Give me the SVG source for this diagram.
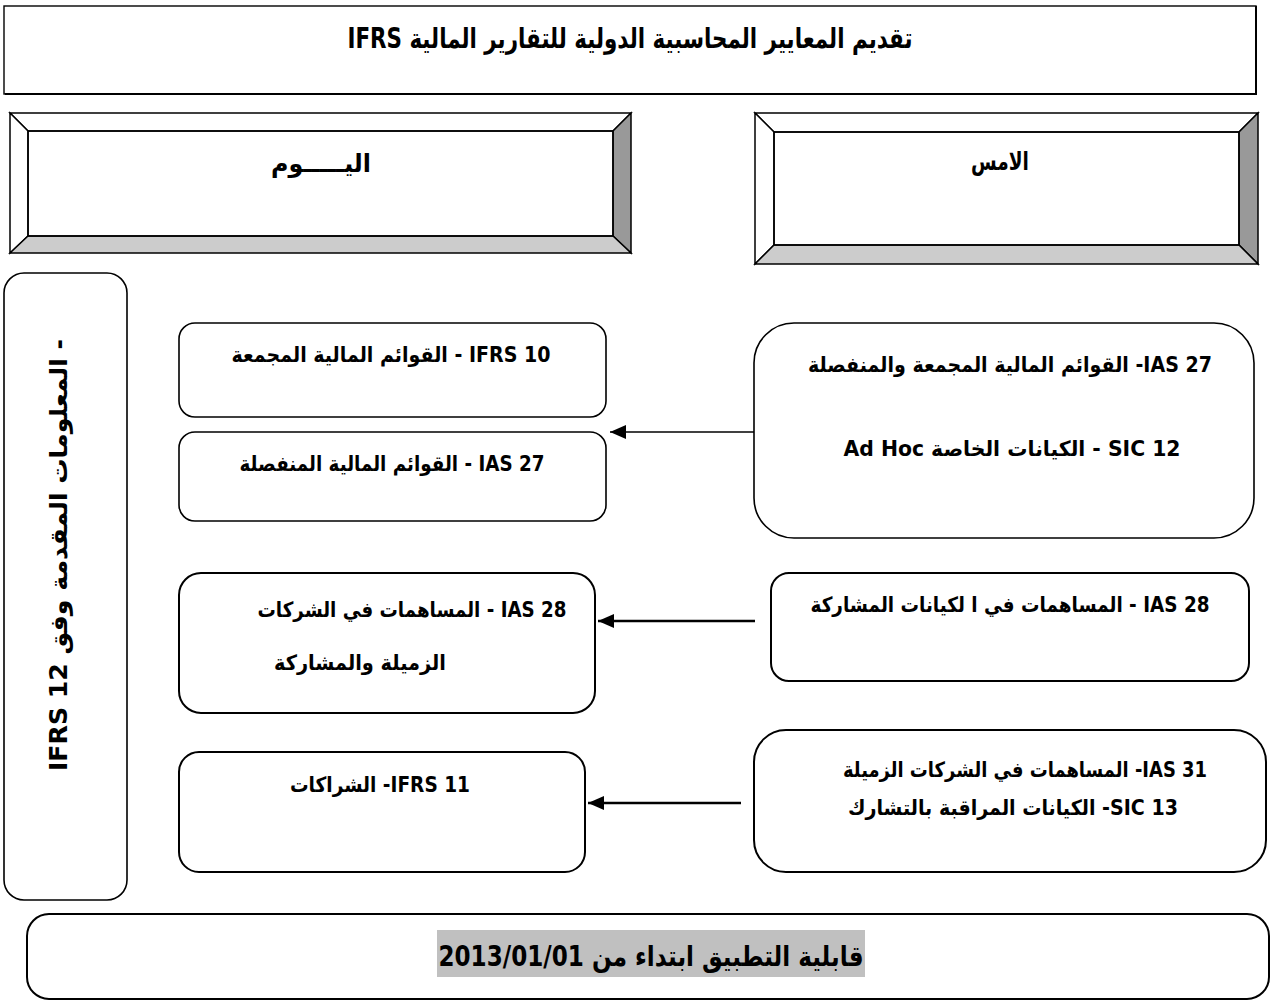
<svg xmlns="http://www.w3.org/2000/svg" width="1272" height="1001" viewBox="0 0 1272 1001">
  <style>
    .box { fill: #ffffff; stroke: #000000; stroke-width: 1.6; }
    .box2 { fill: #ffffff; stroke: #000000; stroke-width: 2; }
    .bev { stroke: #000000; stroke-width: 1.5; stroke-linejoin: miter; }
    .t { font-family: "DejaVu Sans", "Noto Sans", sans-serif; font-weight: bold; fill: #000000; }
    .tc { font-family: "DejaVu Sans Condensed", "DejaVu Sans", sans-serif; font-weight: bold; fill: #000000; }
    .link { stroke: #000000; fill: none; }
  </style>
  <defs>
    <marker id="headL" viewBox="0 0 16 14" refX="16" refY="7" markerWidth="16" markerHeight="14" orient="auto" markerUnits="userSpaceOnUse">
      <path d="M0,0 L16,7 L0,14 z" fill="#000000"/>
    </marker>
  </defs>

  <rect width="1272" height="1001" fill="#ffffff"/>

  <!-- title banner -->
  <g id="title">
    <rect x="4" y="6" width="1252" height="88" fill="#ffffff" stroke="#000000" stroke-width="1.4"/>
    <line x1="5" y1="94" x2="1257" y2="94" stroke="#000000" stroke-width="2"/>
    <line x1="1256" y1="6" x2="1256" y2="95" stroke="#000000" stroke-width="2"/>
    <text class="tc" x="630" y="48" font-size="28" text-anchor="middle" direction="rtl" textLength="565" lengthAdjust="spacingAndGlyphs">تقديم المعايير المحاسبية الدولية للتقارير المالية IFRS</text>
  </g>

  <!-- bevelled header: today -->
  <g id="today">
    <rect x="10" y="113" width="621" height="140" fill="#ffffff"/>
    <polygon class="bev" fill="#ffffff" points="10,113 631,113 613,131 28,131"/>
    <polygon class="bev" fill="#ffffff" points="10,113 28,131 28,236 10,253"/>
    <polygon class="bev" fill="#999999" points="631,113 631,253 613,236 613,131"/>
    <polygon class="bev" fill="#cccccc" points="10,253 28,236 613,236 631,253"/>
    <rect x="28" y="131" width="585" height="105" fill="none" stroke="#000000" stroke-width="1.5"/>
    <text class="t" x="321" y="172" font-size="25" text-anchor="middle" direction="rtl" textLength="100" lengthAdjust="spacingAndGlyphs">اليـــــوم</text>
  </g>

  <!-- bevelled header: yesterday -->
  <g id="yesterday">
    <rect x="755" y="113" width="503" height="151" fill="#ffffff"/>
    <polygon class="bev" fill="#ffffff" points="755,113 1258,113 1239,132 774,132"/>
    <polygon class="bev" fill="#ffffff" points="755,113 774,132 774,245 755,264"/>
    <polygon class="bev" fill="#999999" points="1258,113 1258,264 1239,245 1239,132"/>
    <polygon class="bev" fill="#cccccc" points="755,264 774,245 1239,245 1258,264"/>
    <rect x="774" y="132" width="465" height="113" fill="none" stroke="#000000" stroke-width="1.5"/>
    <text class="t" x="1000" y="170" font-size="25" text-anchor="middle" direction="rtl" textLength="58" lengthAdjust="spacingAndGlyphs">الامس</text>
  </g>

  <!-- side panel: disclosures -->
  <g id="disclosures">
    <rect class="box" x="4" y="273" width="123" height="627" rx="20"/>
    <text class="t" transform="translate(67,555) rotate(-90)" font-size="24" text-anchor="middle" direction="rtl" textLength="432" lengthAdjust="spacingAndGlyphs">- المعلومات المقدمة وفق IFRS 12</text>
  </g>

  <!-- new standards -->
  <g id="ifrs10">
    <rect class="box" x="179" y="323" width="427" height="94" rx="16"/>
    <text class="t" x="391" y="362" font-size="21" text-anchor="middle" direction="rtl" textLength="319" lengthAdjust="spacingAndGlyphs">IFRS 10 - القوائم المالية  المجمعة</text>
  </g>
  <g id="ias27new">
    <rect class="box" x="179" y="432" width="427" height="89" rx="16"/>
    <text class="t" x="392" y="471" font-size="21" text-anchor="middle" direction="rtl" textLength="305" lengthAdjust="spacingAndGlyphs">IAS 27 - القوائم المالية المنفصلة</text>
  </g>
  <g id="ias28new">
    <rect class="box2" x="179" y="573" width="416" height="140" rx="22"/>
    <text class="t" x="412" y="617" font-size="21" text-anchor="middle" direction="rtl" textLength="309" lengthAdjust="spacingAndGlyphs">IAS 28 - المساهمات في الشركات</text>
    <text class="t" x="360" y="670" font-size="21" text-anchor="middle" direction="rtl" textLength="172" lengthAdjust="spacingAndGlyphs">الزميلة  والمشاركة</text>
  </g>
  <g id="ifrs11">
    <rect class="box2" x="179" y="752" width="406" height="120" rx="20"/>
    <text class="t" x="380" y="792" font-size="21" text-anchor="middle" direction="rtl" textLength="180" lengthAdjust="spacingAndGlyphs">IFRS 11- الشراكات</text>
  </g>

  <!-- previous standards -->
  <g id="ias27old">
    <rect class="box" x="754" y="323" width="500" height="215" rx="40"/>
    <text class="t" x="1010" y="372" font-size="21" text-anchor="middle" direction="rtl" textLength="404" lengthAdjust="spacingAndGlyphs">IAS 27- القوائم المالية المجمعة والمنفصلة</text>
    <text class="t" x="1012" y="456" font-size="21" text-anchor="middle" direction="rtl" textLength="337" lengthAdjust="spacingAndGlyphs">SIC 12 - الكيانات الخاصة Ad Hoc</text>
  </g>
  <g id="ias28old">
    <rect class="box2" x="771" y="573" width="478" height="108" rx="18"/>
    <text class="t" x="1010" y="612" font-size="21" text-anchor="middle" direction="rtl" textLength="399" lengthAdjust="spacingAndGlyphs">IAS 28 - المساهمات في  ا لكيانات المشاركة</text>
  </g>
  <g id="ias31old">
    <rect class="box2" x="754" y="730" width="512" height="142" rx="32"/>
    <text class="t" x="1025" y="777" font-size="21" text-anchor="middle" direction="rtl" textLength="364" lengthAdjust="spacingAndGlyphs">IAS 31- المساهمات في الشركات الزميلة</text>
    <text class="t" x="1013" y="815" font-size="21" text-anchor="middle" direction="rtl" textLength="330" lengthAdjust="spacingAndGlyphs">SIC 13- الكيانات المراقبة بالتشارك</text>
  </g>

  <!-- effective date -->
  <g id="effective">
    <rect class="box2" x="27" y="914" width="1242" height="85" rx="22"/>
    <rect x="437" y="930" width="428" height="47" fill="#c0c0c0"/>
    <text class="tc" x="651" y="966" font-size="28" text-anchor="middle" direction="rtl" textLength="425" lengthAdjust="spacingAndGlyphs">قابلية التطبيق ابتداء من 2013/01/01</text>
  </g>

  <!-- transitions from previous to new standards -->
  <g id="connectors">
    <line class="link" x1="754" y1="432" x2="610" y2="432" stroke-width="1.6" marker-end="url(#headL)"/>
    <line class="link" x1="755" y1="621" x2="598" y2="621" stroke-width="2.5" marker-end="url(#headL)"/>
    <line class="link" x1="741" y1="803" x2="588" y2="803" stroke-width="2.5" marker-end="url(#headL)"/>
  </g>
</svg>
